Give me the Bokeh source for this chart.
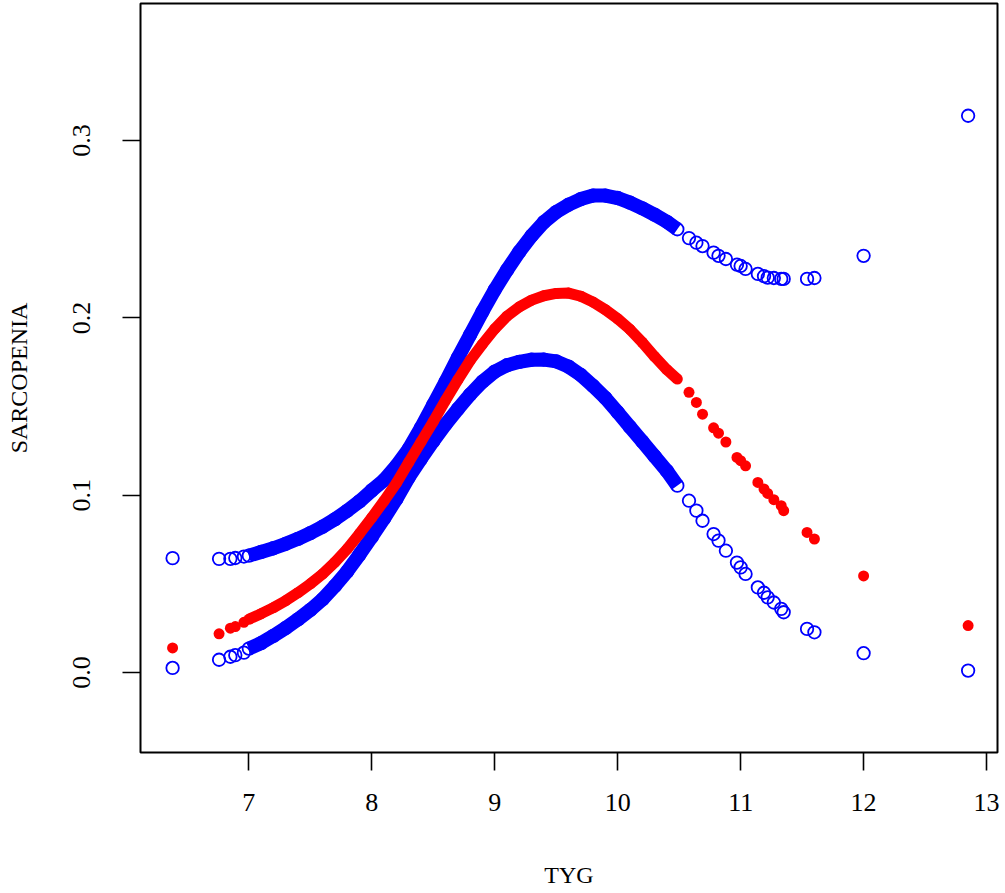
from bokeh.plotting import figure
from bokeh.models import Range1d, FixedTicker, NumeralTickFormatter
from bokeh.embed import file_html
from bokeh.resources import INLINE

# TYG values (x) and the three fitted series
tyg = [6.38, 6.758, 6.85, 6.89, 6.96,
       7.0, 7.1, 7.2, 7.3, 7.4, 7.5, 7.6, 7.7, 7.8, 7.9,
       8.0, 8.1, 8.2, 8.3, 8.4, 8.5, 8.6, 8.7, 8.8, 8.9,
       9.0, 9.1, 9.2, 9.3, 9.4, 9.5, 9.6, 9.7, 9.8, 9.9,
       10.0, 10.1, 10.2, 10.3, 10.4, 10.485,
       10.58, 10.64, 10.69, 10.78, 10.82, 10.88, 10.97, 11.00,
       11.04, 11.14, 11.19, 11.22, 11.27, 11.33, 11.35, 11.54, 11.60, 12.00, 12.85]

fit = [0.0139, 0.0218, 0.0250, 0.0259, 0.0283,
       0.0300, 0.0332, 0.0366, 0.0405, 0.0450, 0.0500, 0.0556, 0.0622, 0.0697, 0.0783,
       0.0874, 0.0968, 0.1068, 0.1185, 0.1300, 0.1415, 0.1535, 0.1650, 0.1760, 0.1852,
       0.1938, 0.2010, 0.2062, 0.2100, 0.2125, 0.2138, 0.2140, 0.2122, 0.2089, 0.2046,
       0.1995, 0.1935, 0.1862, 0.1782, 0.1708, 0.1655,
       0.1580, 0.1523, 0.1457, 0.1380, 0.1350, 0.1300, 0.1213, 0.1195,
       0.1166, 0.1072, 0.1035, 0.1010, 0.0975, 0.0941, 0.0913, 0.0790, 0.0753, 0.0545, 0.0265]

lower = [0.0026, 0.0072, 0.0089, 0.0098, 0.0112,
         0.0135, 0.0166, 0.0207, 0.0251, 0.0300, 0.0353, 0.0413, 0.0488, 0.0570, 0.0665,
         0.0765, 0.0869, 0.0979, 0.1100, 0.1205, 0.1305, 0.1400, 0.1486, 0.1568, 0.1640,
         0.1697, 0.1733, 0.1752, 0.1764, 0.1765, 0.1755, 0.1725, 0.1678, 0.1616, 0.1548,
         0.1468, 0.1385, 0.1303, 0.1220, 0.1137, 0.1054,
         0.0969, 0.0913, 0.0856, 0.0781, 0.0744, 0.0687, 0.0620, 0.0593,
         0.0556, 0.0480, 0.0450, 0.0424, 0.0395, 0.0359, 0.0340, 0.0246, 0.0227, 0.0109, 0.0011]

upper = [0.0645, 0.0641, 0.0641, 0.0646, 0.0654,
         0.0659, 0.0680, 0.0701, 0.0726, 0.0754, 0.0786, 0.0822, 0.0864, 0.0912, 0.0965,
         0.1027, 0.1085, 0.1165, 0.1260, 0.1380, 0.1510, 0.1640, 0.1775, 0.1905, 0.2035,
         0.2158, 0.2270, 0.2373, 0.2463, 0.2540, 0.2597, 0.2638, 0.2670, 0.2690, 0.2690,
         0.2676, 0.2650, 0.2618, 0.2582, 0.2542, 0.2500,
         0.2450, 0.2424, 0.2405, 0.2368, 0.2350, 0.2332, 0.2300, 0.2293,
         0.2276, 0.2248, 0.2235, 0.2227, 0.2225, 0.2220, 0.2220, 0.2220, 0.2225, 0.2350, 0.3140]

x_ticks = [7, 8, 9, 10, 11, 12, 13]
y_ticks = [0.0, 0.1, 0.2, 0.3]
x_title = "TYG"
y_title = "SARCOPENIA"

# the densely sampled part of the data forms a continuous band
dense = [i for i, t in enumerate(tyg) if 7.0 <= t <= 10.485]
d_x = [tyg[i] for i in dense]
d_fit = [fit[i] for i in dense]
d_lo = [lower[i] for i in dense]
d_hi = [upper[i] for i in dense]

FONT = "Liberation Serif"
BLUE = "#0000FF"
RED = "#FF0000"

p = figure(width=1005, height=893,
           x_range=Range1d(6.119, 13.089), y_range=Range1d(-0.0451, 0.3773),
           output_backend="svg", toolbar_location=None,
           min_border_left=140, min_border_right=8, min_border_top=3, min_border_bottom=141)

p.background_fill_color = "white"
p.border_fill_color = "white"
p.outline_line_color = "black"
p.outline_line_width = 2
p.xgrid.grid_line_color = None
p.ygrid.grid_line_color = None

for ax in (p.xaxis[0], p.yaxis[0]):
    ax.axis_line_color = None
    ax.major_tick_out = 18
    ax.major_tick_in = 0
    ax.major_tick_line_width = 1.6
    ax.major_tick_line_color = "black"
    ax.minor_tick_line_color = None
    ax.minor_tick_out = 0
    ax.major_label_text_font = FONT
    ax.major_label_text_font_size = "26px"
    ax.major_label_text_color = "black"
    ax.axis_label_text_font = FONT
    ax.axis_label_text_font_size = "24px"
    ax.axis_label_text_font_style = "normal"
    ax.axis_label_text_color = "black"

p.xaxis.ticker = FixedTicker(ticks=x_ticks)
p.yaxis.ticker = FixedTicker(ticks=y_ticks)
p.yaxis.formatter = NumeralTickFormatter(format="0.0")
p.yaxis.major_label_orientation = "vertical"
p.xaxis.axis_label = x_title
p.yaxis.axis_label = y_title
p.xaxis.major_label_standoff = 23
p.xaxis.axis_label_standoff = 48
p.yaxis.major_label_standoff = 32
p.yaxis.axis_label_standoff = 39

# confidence bounds: open blue circles (dense part drawn as a band)
for ys in (d_lo, d_hi):
    p.line(d_x, ys, line_color=BLUE, line_width=14, line_join="round", line_cap="butt")
p.scatter(tyg, lower, marker="circle", size=12.5, fill_color=None, line_color=BLUE, line_width=1.8)
p.scatter(tyg, upper, marker="circle", size=12.5, fill_color=None, line_color=BLUE, line_width=1.8)

# fitted values: filled red dots
p.line(d_x, d_fit, line_color=RED, line_width=11, line_join="round", line_cap="butt")
p.scatter(tyg, fit, marker="circle", size=11, fill_color=RED, line_color=None)

open("out.html", "w").write(file_html(p, INLINE))
